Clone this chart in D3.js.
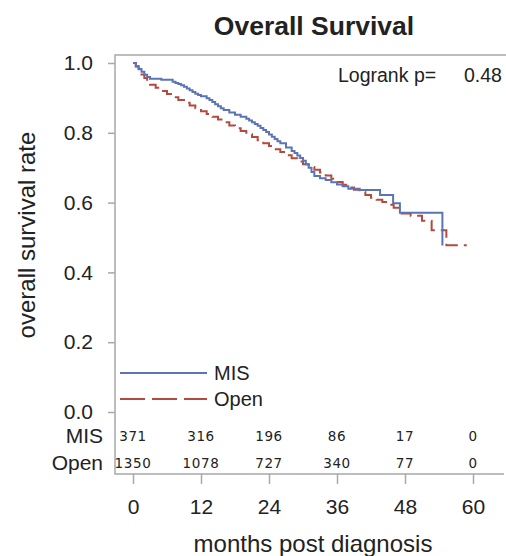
<!DOCTYPE html>
<html>
<head>
<meta charset="utf-8">
<script src="https://cdn.jsdelivr.net/npm/d3@7"></script>
<style>
  body { margin: 0; background: #fff; }
  text { font-family: "Liberation Sans", Arial, sans-serif; fill: #222; }
</style>
</head>
<body>
<svg id="chart"></svg>
<script>
// Kaplan-Meier estimates (months, survival)
const misTime = [0, 0.5, 1, 1.5, 2, 2.5, 3, 5, 7, 7.5, 8, 8.5, 9, 9.5, 10, 10.5, 11, 11.5, 12, 13, 13.5, 14, 14.5, 15, 15.5, 16, 17, 18, 19, 20, 20.5, 21, 21.5, 22, 22.5, 23, 23.5, 24, 24.5, 25, 25.5, 26, 27, 28, 28.5, 29, 29.5, 30, 30.5, 31, 31.5, 32, 33, 34, 35, 36, 37, 38, 40, 43.6, 45.9, 47.1, 54.6];
const misSurv = [1.0, 0.991, 0.983, 0.975, 0.966, 0.960, 0.955, 0.952, 0.946, 0.943, 0.940, 0.936, 0.932, 0.927, 0.922, 0.917, 0.912, 0.908, 0.905, 0.899, 0.894, 0.888, 0.882, 0.876, 0.870, 0.865, 0.858, 0.852, 0.846, 0.840, 0.835, 0.830, 0.825, 0.820, 0.814, 0.808, 0.802, 0.795, 0.789, 0.782, 0.776, 0.770, 0.758, 0.748, 0.742, 0.735, 0.728, 0.720, 0.710, 0.700, 0.688, 0.676, 0.670, 0.665, 0.658, 0.652, 0.647, 0.640, 0.636, 0.622, 0.598, 0.571, 0.477];

const openTime = [0, 0.5, 1, 1.5, 2, 2.5, 3, 4, 5, 6, 7, 8, 9, 10, 11, 12, 13, 14, 15, 16, 17, 18, 19, 20, 21, 22, 23, 24, 25, 26, 27, 28, 29, 30, 31, 32, 33, 34, 35, 36, 37, 38, 39, 40, 41, 42, 43, 44, 45, 46, 47, 49, 51, 52.7, 55.3, 58.9];
const openSurv = [1.0, 0.990, 0.978, 0.967, 0.957, 0.947, 0.938, 0.929, 0.920, 0.911, 0.902, 0.894, 0.886, 0.878, 0.870, 0.862, 0.854, 0.846, 0.838, 0.830, 0.821, 0.813, 0.805, 0.796, 0.788, 0.779, 0.770, 0.762, 0.753, 0.745, 0.736, 0.727, 0.718, 0.710, 0.702, 0.694, 0.686, 0.678, 0.668, 0.659, 0.651, 0.643, 0.637, 0.631, 0.622, 0.614, 0.608, 0.602, 0.594, 0.585, 0.569, 0.562, 0.548, 0.521, 0.478, 0.478];

// numbers at risk
const riskTimes = [0, 12, 24, 36, 48, 60];
const misAtRisk = [371, 316, 196, 86, 17, 0];
const openAtRisk = [1350, 1078, 727, 340, 77, 0];

const groups = ["MIS", "Open"];
const yTicks = [0, 0.2, 0.4, 0.6, 0.8, 1.0];
const pValue = "0.48";

const W = 506, H = 556;
const frame = { left: 115, top: 55, right: 504, bottom: 474 };
const blue = "#5a74b4", red = "#b34a3e";

const svg = d3.select("#chart").attr("width", W).attr("height", H);

const x = d3.scaleLinear().domain([0, 60]).range([133, 473]);
const y = d3.scaleLinear().domain([0, 1]).range([412, 63]);

// frame (left, top, bottom)
svg.append("path")
  .attr("d", `M${W},${frame.top}H${frame.left}V${frame.bottom}H${frame.right}`)
  .attr("fill", "none").attr("stroke", "#a8a8a8").attr("stroke-width", 1.5);

// y axis
const yAxis = svg.append("g")
  .attr("transform", `translate(${frame.left},0)`)
  .call(d3.axisLeft(y).tickValues(yTicks).tickFormat(d3.format(".1f")).tickSize(7).tickPadding(15));
yAxis.select(".domain").remove();
yAxis.selectAll("line").attr("stroke", "#a8a8a8").attr("stroke-width", 1.5);
yAxis.selectAll("text").style("font-size", "21px").attr("fill", "#222");

// x axis below the risk table
const xAxis = svg.append("g")
  .attr("transform", `translate(0,${frame.bottom})`)
  .call(d3.axisBottom(x).tickValues(riskTimes).tickSize(10).tickPadding(15));
xAxis.select(".domain").remove();
xAxis.selectAll("line").attr("stroke", "#a8a8a8").attr("stroke-width", 1.5);
xAxis.selectAll("text").style("font-size", "21px").attr("fill", "#222");

// curves
const line = d3.line()
  .x(d => x(d[0]))
  .y(d => y(d[1]))
  .curve(d3.curveStepAfter);

const misPts = misTime.map((t, i) => [t, misSurv[i]]);
const openPts = openTime.map((t, i) => [t, openSurv[i]]);

svg.append("path").datum(openPts)
  .attr("d", line).attr("fill", "none")
  .attr("stroke", red).attr("stroke-width", 2).attr("stroke-dasharray", "13,6");

svg.append("path").datum(misPts)
  .attr("d", line).attr("fill", "none")
  .attr("stroke", blue).attr("stroke-width", 2);

// logrank
svg.append("text")
  .attr("x", 338).attr("y", 82)
  .style("font-size", "19.5px")
  .text("Logrank p=");
svg.append("text")
  .attr("x", 464).attr("y", 82)
  .style("font-size", "19.5px")
  .text(pValue);

// legend
const legend = svg.append("g");
[blue, red].forEach((c, i) => {
  const ly = 373 + i * 26;
  legend.append("line")
    .attr("x1", 120).attr("x2", 207).attr("y1", ly).attr("y2", ly)
    .attr("stroke", c).attr("stroke-width", 2)
    .attr("stroke-dasharray", i === 1 ? "25,7" : null);
  legend.append("text")
    .attr("x", 214).attr("y", ly).attr("dy", "0.35em")
    .style("font-size", "20px")
    .text(groups[i]);
});

// numbers at risk table
[misAtRisk, openAtRisk].forEach((row, i) => {
  const ry = 436 + i * 27;
  svg.append("text")
    .attr("x", 103).attr("y", ry).attr("dy", "0.35em")
    .attr("text-anchor", "end")
    .style("font-size", "21px")
    .text(groups[i]);
  svg.append("g").selectAll("text")
    .data(row)
    .join("text")
      .attr("x", (d, j) => x(riskTimes[j]))
      .attr("y", ry).attr("dy", "0.35em")
      .attr("text-anchor", "middle")
      .style("font-family", "'DejaVu Sans', sans-serif")
      .style("font-size", "13.5px")
      .style("letter-spacing", "0.6px")
      .attr("fill", "#333")
      .text(d => d);
});

// titles
svg.append("text")
  .attr("x", 314).attr("y", 35)
  .attr("text-anchor", "middle")
  .style("font-size", "26.5px").style("font-weight", "bold")
  .text("Overall Survival");

svg.append("text")
  .attr("x", 313).attr("y", 552)
  .attr("text-anchor", "middle")
  .style("font-size", "24px")
  .text("months post diagnosis");

svg.append("text")
  .attr("transform", "translate(35,235) rotate(-90)")
  .attr("text-anchor", "middle")
  .style("font-size", "24px")
  .text("overall survival rate");
</script>
</body>
</html>
